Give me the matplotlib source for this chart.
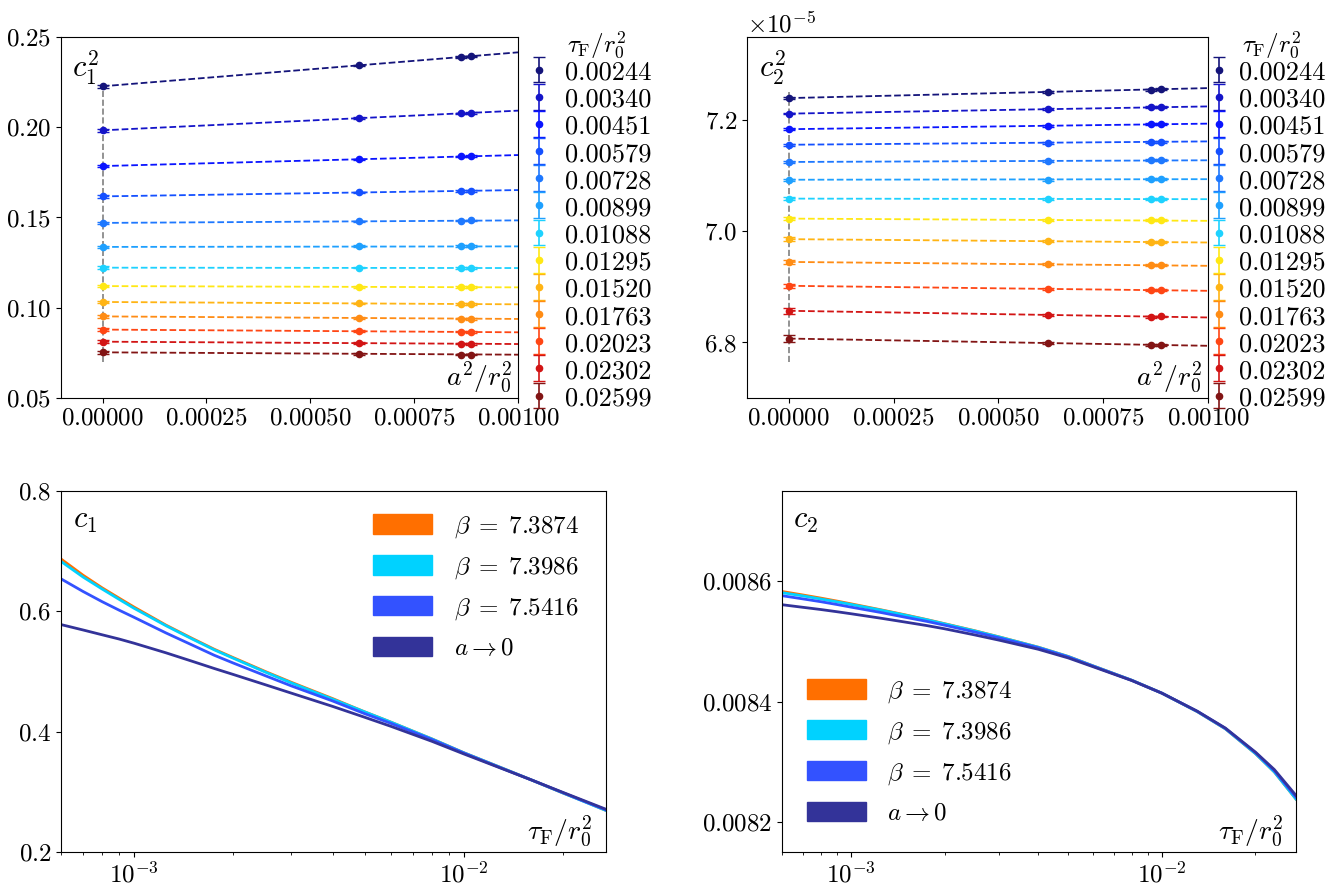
import matplotlib
matplotlib.use("Agg")
import matplotlib.pyplot as plt
import matplotlib.patches as mpatches
from matplotlib.container import ErrorbarContainer
from matplotlib.legend_handler import HandlerErrorbar
from matplotlib.ticker import MultipleLocator

plt.rcParams["font.family"] = "serif"
plt.rcParams["font.serif"] = ["cmr10"]
plt.rcParams["mathtext.fontset"] = "cm"
plt.rcParams["axes.formatter.use_mathtext"] = True
plt.rcParams["axes.unicode_minus"] = False
plt.rcParams["xtick.labelsize"] = 18
plt.rcParams["ytick.labelsize"] = 18

# ── Data: continuum extrapolation (top row) ───────────────────────────────
tau_labels = ["0.00244", "0.00340", "0.00451", "0.00579", "0.00728", "0.00899",
              "0.01088", "0.01295", "0.01520", "0.01763", "0.02023", "0.02302", "0.02599"]
series_colors = ["#14147a", "#1414c8", "#0a14ff", "#1450ff", "#1e78ff", "#1ea0ff",
                 "#1ed2ff", "#ffe814", "#ffb414", "#ff8c14", "#ff4614", "#d21414", "#821414"]

a2_points = [0.0, 0.000618, 0.000863, 0.000887]
a2_fit_range = [0.0, 0.001]

c1sq_cont = [0.2227, 0.1983, 0.1785, 0.1617, 0.1470, 0.1337, 0.1222,
             0.1120, 0.1032, 0.0952, 0.0879, 0.0812, 0.0753]
c1sq_b3 = [0.2343, 0.2051, 0.1822, 0.1639, 0.1479, 0.1341, 0.1222,
           0.1115, 0.1024, 0.0943, 0.0870, 0.0805, 0.0744]
c1sq_b1 = [0.2389, 0.2077, 0.1839, 0.1647, 0.1483, 0.1341, 0.1221,
           0.1115, 0.1020, 0.0939, 0.0867, 0.0801, 0.0740]
c1sq_b2 = [0.2392, 0.2078, 0.1840, 0.1648, 0.1484, 0.1341, 0.1221,
           0.1114, 0.1020, 0.0938, 0.0866, 0.0800, 0.0740]
c1sq_fit_end = [0.2415, 0.2092, 0.1846, 0.1652, 0.1484, 0.1340, 0.1220,
                0.1113, 0.1019, 0.0938, 0.0864, 0.0799, 0.0740]
c1sq_err_cont = 0.0007
c1sq_err_latt = 0.0004
c1sq_vline = (0.070, 0.2227)

c2sq_cont = [7.240, 7.212, 7.184, 7.156, 7.125, 7.093, 7.059,
             7.023, 6.986, 6.945, 6.902, 6.857, 6.807]
c2sq_b3 = [7.251, 7.220, 7.190, 7.159, 7.127, 7.093, 7.058,
           7.021, 6.983, 6.941, 6.896, 6.849, 6.799]
c2sq_b1 = [7.255, 7.224, 7.193, 7.161, 7.128, 7.094, 7.058,
           7.020, 6.981, 6.939, 6.894, 6.846, 6.795]
c2sq_b2 = [7.256, 7.224, 7.193, 7.161, 7.128, 7.094, 7.058,
           7.020, 6.981, 6.939, 6.894, 6.847, 6.796]
c2sq_fit_end = [7.258, 7.225, 7.194, 7.162, 7.128, 7.094, 7.058,
                7.019, 6.980, 6.938, 6.893, 6.845, 6.794]
c2sq_err_cont = [0.0015, 0.0015, 0.002, 0.002, 0.002, 0.002, 0.0025,
                 0.0025, 0.003, 0.003, 0.004, 0.005, 0.006]
c2sq_err_latt = 0.0015
c2sq_vline = (6.765, 7.251)
c2sq_scale = 1e-5

# ── Data: c1, c2 vs flow time (bottom row) ────────────────────────────────
tau = [6e-4, 7e-4, 8e-4, 9e-4, 1e-3, 1.25e-3, 1.5e-3, 1.75e-3, 2e-3, 2.5e-3, 3e-3,
       4e-3, 5e-3, 6e-3, 8e-3, 1e-2, 1.3e-2, 1.6e-2, 2e-2, 2.3e-2, 2.7e-2]
curve_labels = [r"$\beta\;=\;7.3874$", r"$\beta\;=\;7.3986$", r"$\beta\;=\;7.5416$", r"$a\to0$"]
curve_colors = ["#ff6f00", "#00d2ff", "#3352ff", "#333399"]

c1_curves = [
    [0.687, 0.660, 0.639, 0.622, 0.607, 0.577, 0.555, 0.537, 0.523, 0.500, 0.482,
     0.455, 0.433, 0.416, 0.388, 0.365, 0.340, 0.320, 0.298, 0.285, 0.269],
    [0.683, 0.657, 0.637, 0.620, 0.605, 0.576, 0.554, 0.536, 0.522, 0.499, 0.481,
     0.454, 0.433, 0.416, 0.388, 0.365, 0.340, 0.320, 0.298, 0.2845, 0.269],
    [0.654, 0.633, 0.616, 0.602, 0.590, 0.564, 0.544, 0.527, 0.514, 0.493, 0.476,
     0.451, 0.430, 0.414, 0.387, 0.3645, 0.3395, 0.320, 0.2985, 0.285, 0.270],
    [0.578, 0.569, 0.561, 0.554, 0.547, 0.531, 0.517, 0.505, 0.495, 0.478, 0.464,
     0.442, 0.424, 0.409, 0.384, 0.363, 0.339, 0.320, 0.299, 0.286, 0.271],
]
c2_curves = [
    [8.583, 8.5772, 8.572, 8.5671, 8.5625, 8.5525, 8.544, 8.5364, 8.5295, 8.5178, 8.5075,
     8.4905, 8.475, 8.4595, 8.4355, 8.414, 8.3833, 8.3548, 8.3135, 8.283, 8.238],
    [8.581, 8.5757, 8.5705, 8.5659, 8.5615, 8.552, 8.5435, 8.5361, 8.5292, 8.5175, 8.5073,
     8.4904, 8.4749, 8.4594, 8.4355, 8.414, 8.3833, 8.3548, 8.3135, 8.283, 8.238],
    [8.576, 8.5707, 8.566, 8.5614, 8.557, 8.548, 8.540, 8.5334, 8.527, 8.5156, 8.5058,
     8.4895, 8.4742, 8.459, 8.4353, 8.414, 8.3837, 8.3554, 8.315, 8.285, 8.241],
    [8.561, 8.5567, 8.553, 8.5494, 8.546, 8.5385, 8.532, 8.5264, 8.521, 8.5108, 8.502,
     8.487, 8.4725, 8.458, 8.435, 8.414, 8.384, 8.356, 8.316, 8.287, 8.244],
]
c2_scale = 1e-3

# ── Figure ────────────────────────────────────────────────────────────────
W, H = 1338, 888
fig = plt.figure(figsize=(W / 100, H / 100), dpi=100)


def axes_px(l, t, r, b):
    return fig.add_axes([l / W, 1 - b / H, (r - l) / W, (b - t) / H])


ax_tl = axes_px(61, 37, 518, 398)
ax_tr = axes_px(747, 37, 1208, 398)
ax_bl = axes_px(61, 491, 606, 852)
ax_br = axes_px(782, 491, 1296, 852)

err_handler = {ErrorbarContainer: HandlerErrorbar(xerr_size=0.5, yerr_size=0.49)}


def top_panel(ax, cont, b3, b1, b2, fit_end, err_cont, err_latt, vline, scale,
              ylabel, leg_x, leg_pad, title_x):
    ax.vlines(0, vline[0] * scale, vline[1] * scale, colors="grey",
              linestyles="--", lw=1.2, zorder=1)
    for i, lab in enumerate(tau_labels):
        c = series_colors[i]
        ax.plot(a2_fit_range, [cont[i] * scale, fit_end[i] * scale], "--", color=c, lw=1.3, zorder=2)
        yv = [cont[i] * scale, b3[i] * scale, b1[i] * scale, b2[i] * scale]
        ec = err_cont[i] if isinstance(err_cont, list) else err_cont
        ye = [ec * scale, err_latt * scale, err_latt * scale, err_latt * scale]
        ax.errorbar(a2_points, yv, yerr=ye, fmt="o", color=c, ms=4.5,
                    capsize=4, elinewidth=1.2, label=lab, zorder=3)
    ax.set_xlim(-0.0001, 0.001)
    ax.set_xticks([0.0, 0.00025, 0.0005, 0.00075, 0.001])
    ax.text(0.025, 0.97, ylabel, transform=ax.transAxes, ha="left", va="top", fontsize=22)
    ax.text(0.988, 0.008, r"$a^2/r_0^2$", transform=ax.transAxes, ha="right", va="bottom", fontsize=20)
    ax.text(title_x, 0.978, r"$\tau_\mathrm{F}/r_0^2$", transform=ax.transAxes,
            ha="center", va="center", fontsize=18)
    ax.legend(loc="upper left", bbox_to_anchor=(leg_x, 0.9377), frameon=False,
              fontsize=19, handlelength=0.833, handletextpad=leg_pad, labelspacing=0.08,
              handleheight=0.9, borderpad=0, borderaxespad=0, handler_map=err_handler)


top_panel(ax_tl, c1sq_cont, c1sq_b3, c1sq_b1, c1sq_b2, c1sq_fit_end,
          c1sq_err_cont, c1sq_err_latt, c1sq_vline, 1.0, r"$c_1^2$",
          1.0219, 0.57, 1.173)
ax_tl.set_ylim(0.05, 0.25)
ax_tl.set_yticks([0.05, 0.10, 0.15, 0.20, 0.25])

top_panel(ax_tr, c2sq_cont, c2sq_b3, c2sq_b1, c2sq_b2, c2sq_fit_end,
          c2sq_err_cont, c2sq_err_latt, c2sq_vline, c2sq_scale, r"$c_2^2$",
          1.0, 0.34, 1.137)
ax_tr.set_ylim(6.70e-5, 7.35e-5)
ax_tr.yaxis.set_major_locator(MultipleLocator(0.2e-5))
ax_tr.ticklabel_format(axis="y", style="sci", scilimits=(0, 0), useOffset=False)
ax_tr.yaxis.get_offset_text().set_fontsize(18)


def bottom_panel(ax, curves, scale, ylabel):
    for vals, c, lab in zip(curves, curve_colors, curve_labels):
        ax.plot(tau, [v * scale for v in vals], color=c, lw=2)
    ax.set_xscale("log")
    ax.set_xlim(6e-4, 2.7e-2)
    ax.text(0.022, 0.955, ylabel, transform=ax.transAxes, ha="left", va="top", fontsize=22)
    ax.text(0.976, 0.008, r"$\tau_\mathrm{F}/r_0^2$", transform=ax.transAxes,
            ha="right", va="bottom", fontsize=20)
    return [mpatches.Patch(color=c, label=lab) for c, lab in zip(curve_colors, curve_labels)]


h = bottom_panel(ax_bl, c1_curves, 1.0, r"$c_1$")
ax_bl.set_ylim(0.2, 0.8)
ax_bl.set_yticks([0.2, 0.4, 0.6, 0.8])
ax_bl.legend(handles=h, loc="upper left", bbox_to_anchor=(0.5725, 0.935), frameon=False,
             fontsize=18, handlelength=2.35, handleheight=0.82, handletextpad=0.87,
             labelspacing=0.6, borderpad=0, borderaxespad=0)

h = bottom_panel(ax_br, c2_curves, c2_scale, r"$c_2$")
ax_br.set_ylim(0.00815, 0.00875)
ax_br.set_yticks([0.0082, 0.0084, 0.0086])
ax_br.legend(handles=h, loc="lower left", bbox_to_anchor=(0.0486, 0.075), frameon=False,
             fontsize=18, handlelength=2.35, handleheight=0.82, handletextpad=0.87,
             labelspacing=0.6, borderpad=0, borderaxespad=0)

fig.savefig("out.png", dpi=100)
